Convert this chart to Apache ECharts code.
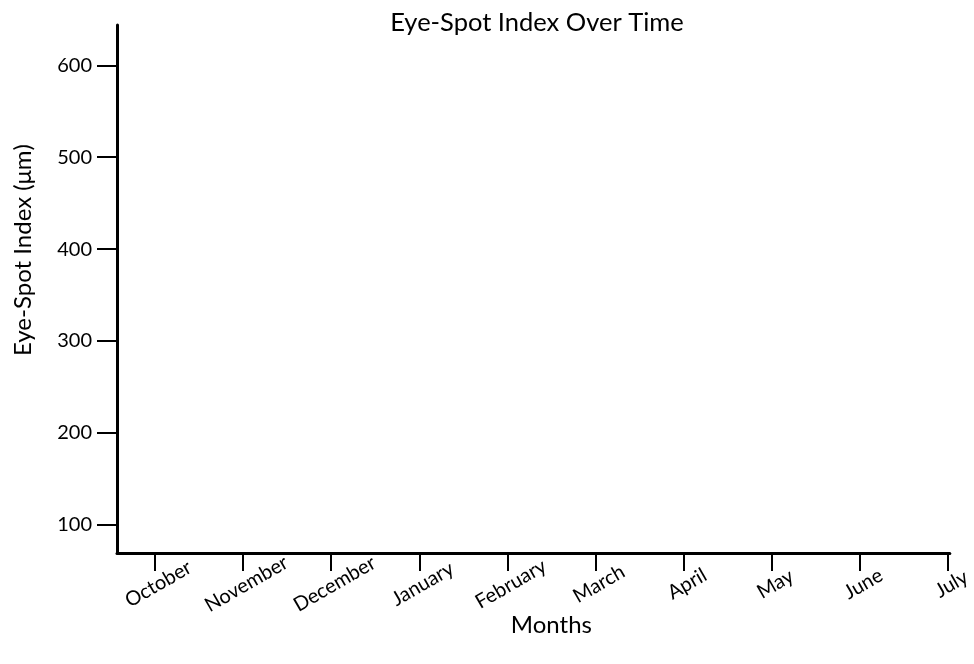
<!DOCTYPE html>
<html>
<head>
<meta charset="utf-8">
<script src="https://cdn.jsdelivr.net/npm/echarts@6/dist/echarts.min.js"></script>
<style>html,body{margin:0;padding:0;background:#fff}#c{width:974px;height:664px}</style>
</head>
<body>
<div id="c"></div>
<script>
var months = ["October","November","December","January","February","March","April","May","June","July"];
var monthIndex = [0,1,2,3,4,5,6,7,8,9];
var yTicks = [100,200,300,400,500,600];
var titleText = "Eye-Spot Index Over Time";
var xName = "Months";
var yName = "Eye-Spot Index (μm)";
var seriesValues = [];

var FONT = "Lato";
var chart = echarts.init(document.getElementById('c'));
chart.setOption({
  backgroundColor: '#fff',
  animation: false,
  title: {
    text: titleText, left: 532, textAlign: 'center', top: 5,
    textStyle: {fontFamily: FONT, fontSize: 25.5, fontWeight: 'normal', color: '#000'}
  },
  grid: {left: 117, right: 22, top: 25, bottom: 111, containLabel: false},
  xAxis: {
    type: 'value', min: -0.43, max: 9.02,
    name: xName, nameLocation: 'middle', nameGap: 60, nameMoveOverlap: false,
    nameTextStyle: {fontFamily: FONT, fontSize: 24, color: '#000', padding: [0, 0, 0, 36]},
    axisLine: {show: true, onZero: false, lineStyle: {color: '#000', width: 3}},
    axisTick: {show: true, customValues: monthIndex, length: 18, lineStyle: {color: '#000', width: 2}},
    axisLabel: {
      customValues: monthIndex, rotate: 30, align: 'center', verticalAlign: 'middle', margin: 33,
      fontFamily: FONT, fontSize: 20, color: '#000', padding: [0, 0, 0, 8],
      formatter: function (v) { return months[Math.round(v)] || ''; }
    },
    splitLine: {show: false}
  },
  yAxis: {
    type: 'value', min: 69, max: 644,
    name: yName, nameLocation: 'middle', nameGap: 82, nameMoveOverlap: false,
    nameTextStyle: {fontFamily: FONT, fontSize: 24, color: '#000', padding: [0, 0, 0, 78]},
    axisLine: {show: true, onZero: false, lineStyle: {color: '#000', width: 3}},
    axisTick: {show: true, customValues: yTicks, length: 20, lineStyle: {color: '#000', width: 2}},
    axisLabel: {customValues: yTicks, margin: 25, fontFamily: FONT, fontSize: 20, color: '#000'},
    splitLine: {show: false}
  },
  series: [{type: 'line', data: seriesValues}]
});
</script>
</body>
</html>
